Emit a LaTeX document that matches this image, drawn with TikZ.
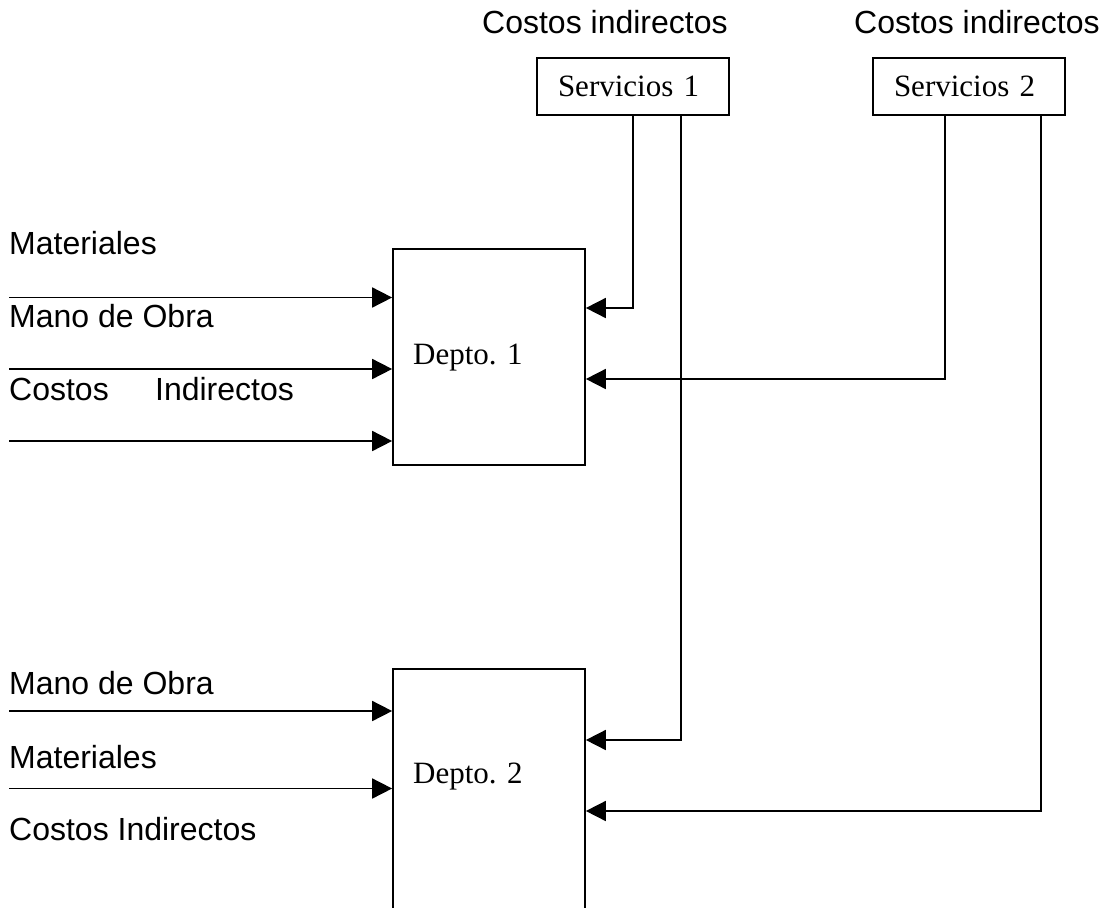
\documentclass[tikz,border=0pt]{standalone}
\usepackage{fontspec}
\setmainfont{Liberation Serif}
\newfontfamily\arialf{Liberation Sans}
\usetikzlibrary{arrows.meta}
\begin{document}
\begin{tikzpicture}[x=1pt,y=-1pt,
  boxst/.style={draw,line width=1.7pt,inner sep=0pt},
  lbl/.style={anchor=base west,inner sep=0pt,font=\arialf\fontsize{32pt}{38pt}\selectfont},
  dlbl/.style={anchor=base west,inner sep=0pt,font=\fontsize{31pt}{37pt}\selectfont},
  srv/.style={boxst,minimum width=192pt,minimum height=57pt,text width=150pt,align=left,inner xsep=21pt,font=\fontsize{31pt}{37pt}\selectfont},
  arr/.style={line width=1.7pt,-{Triangle[length=20pt,width=20pt]}}]
\useasboundingbox (0,0) rectangle (1112,908);
\clip (0,0) rectangle (1112,908);
% top labels
\node[lbl] (ci1) at (482,33) {Costos indirectos};
\node[lbl] (ci2) at (854,33) {Costos indirectos};
% service boxes
\node[srv] (s1) at (633,86.5) {Servicios 1};
\node[srv] (s2) at (969,86.5) {Servicios 2};
% departments
\node[boxst,minimum width=192pt,minimum height=216pt] (d1) at (489,357) {};
\node[dlbl] (d1t) at (413,364) {Depto. 1};
\node[boxst,minimum width=192pt,minimum height=250pt] (d2) at (489,794) {};
\node[dlbl] (d2t) at (413,783) {Depto. 2};
% left labels dept 1
\node[lbl] (mat1) at (9,254) {Materiales};
\node[lbl] (mo1) at (9,327) {Mano de Obra};
\node[lbl] (ci3) at (9,400) {Costos\hspace{46.4pt}Indirectos};
% left labels dept 2
\node[lbl] (mo2) at (9,694) {Mano de Obra};
\node[lbl] (mat2) at (9,768) {Materiales};
\node[lbl] (ci4) at (9,840) {Costos Indirectos};
% free ends of input arrows
\coordinate (a1) at (9,297.5);
\coordinate (a2) at (9,369);
\coordinate (a3) at (9,441);
\coordinate (b1) at (9,711);
\coordinate (b2) at (9,788.5);
\draw[arr] (a1) -- (a1 -| d1.west);
\draw[arr] (a2) -- (a2 -| d1.west);
\draw[arr] (a3) -- (a3 -| d1.west);
\draw[arr] (b1) -- (b1 -| d2.west);
\draw[arr] (b2) -- (b2 -| d2.west);
% connectors from services
\draw[arr] (s1.south) |- (d1.east |- 0,308);
\draw[arr] ([xshift=48pt]s1.south) |- (d2.east |- 0,740);
\draw[arr] ([xshift=-24pt]s2.south) |- (d1.east |- 0,379);
\draw[arr] ([xshift=72pt]s2.south) |- (d2.east |- 0,811);
\end{tikzpicture}
\end{document}
